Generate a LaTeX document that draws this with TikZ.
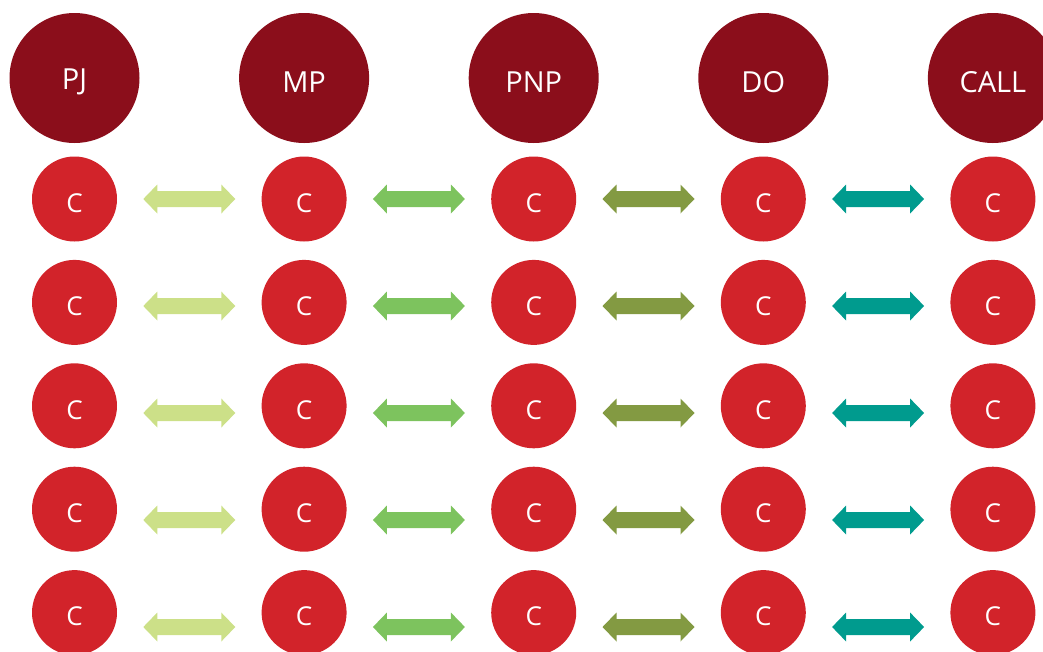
\documentclass[tikz,border=0pt]{standalone}
\usepackage{fontspec}
\setmainfont{Open Sans}
\definecolor{bigred}{HTML}{8B0E1B}
\definecolor{smallred}{HTML}{D2232A}
\definecolor{arA}{HTML}{CCE088}
\definecolor{arB}{HTML}{7DC35E}
\definecolor{arC}{HTML}{839A42}
\definecolor{arD}{HTML}{009B8E}
\tikzset{
  bigcirc/.style={circle,fill=bigred,draw=none,minimum size=130pt,inner sep=0pt},
  smallcirc/.style={circle,fill=smallred,draw=none,minimum size=85pt,inner sep=0pt},
  lbl/.style={text=white,inner sep=0pt,yshift=-4pt}
}
\newcommand\dbarrow[3]{% center x, center y, colour
  \fill[#3] (#1-46,#2) -- (#1-32,#2-14.5) -- (#1-32,#2-8) -- (#1+32,#2-8) -- (#1+32,#2-14.5)
    -- (#1+46,#2) -- (#1+32,#2+14.5) -- (#1+32,#2+8) -- (#1-32,#2+8) -- (#1-32,#2+14.5) -- cycle;}
\begin{document}
\begin{tikzpicture}[x=1pt,y=-1pt]
\useasboundingbox (0,0) rectangle (1043,651);
\clip (0,0) rectangle (1043,651);
\foreach \nm/\tx [count=\i from 0] in {pj/PJ,mp/MP,pnp/PNP,do/DO,call/CALL}{
  \pgfmathsetmacro\cx{74.5+229.6*\i}
  \node[bigcirc] (\nm) at (\cx,78) {};
  \node[lbl,font=\fontsize{29}{29}\selectfont] (\nm t) at (\nm) {\tx};
  \foreach \r in {0,...,4}{
    \pgfmathsetmacro\cy{199+103.4*\r}
    \node[smallcirc] (\nm\r) at (\cx,\cy) {};
    \node[lbl,font=\fontsize{26}{26}\selectfont] (\nm\r t) at (\nm\r) {C};
  }
}
\foreach \col [count=\i from 0] in {arA,arB,arC,arD}{
  \pgfmathsetmacro\ax{74.5+229.6*\i+114.8}
  \foreach \r in {0,...,4}{
    \pgfmathsetmacro\ay{199+107*\r}
    \dbarrow{\ax}{\ay}{\col}
  }
}
\end{tikzpicture}
\end{document}
